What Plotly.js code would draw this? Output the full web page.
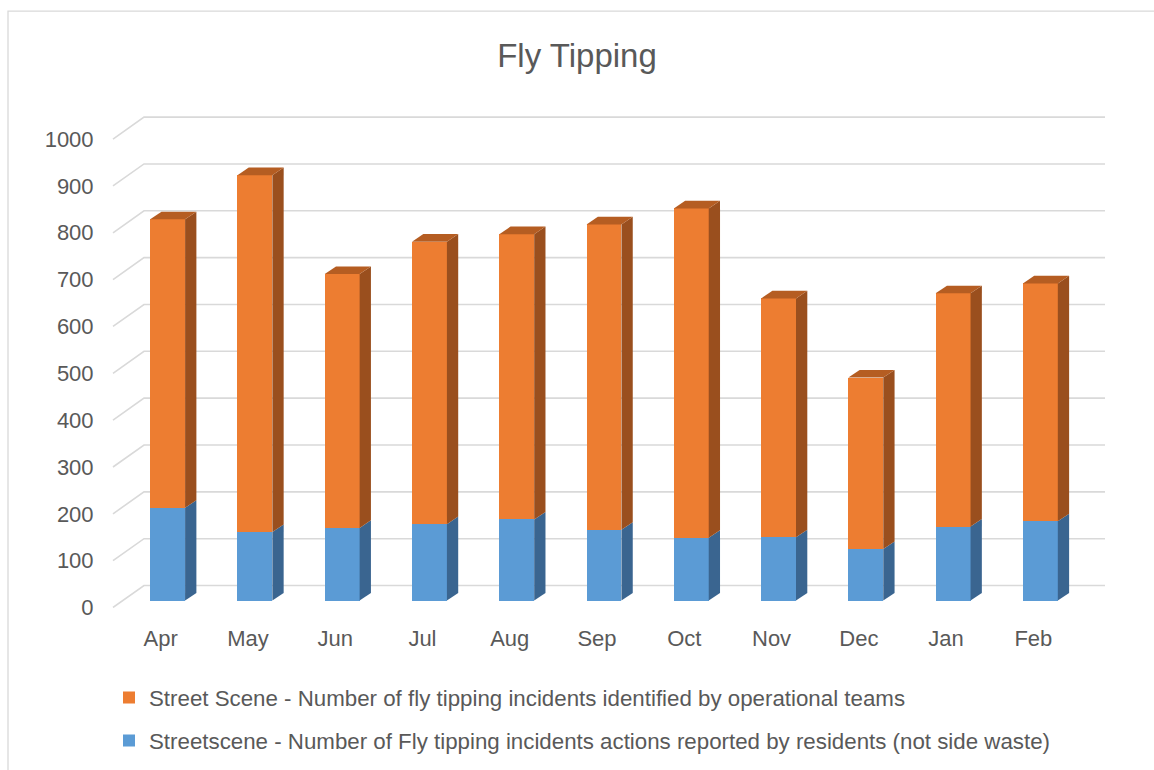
<!DOCTYPE html>
<html>
<head>
<meta charset="utf-8">
<script src="https://cdn.plot.ly/plotly-3.0.1.min.js"></script>
<style>html,body{margin:0;padding:0;background:#fff;}#chart{width:1154px;height:770px;}</style>
</head>
<body>
<div id="chart"></div>
<script>
const months = ["Apr","May","Jun","Jul","Aug","Sep","Oct","Nov","Dec","Jan","Feb"];
const residents = [198,146,155,163,173,151,134,135,110,158,169];
const operational = [616,762,542,603,609,652,703,510,366,498,508];
const yTicks = [0,100,200,300,400,500,600,700,800,900,1000];
const seriesNames = [
  "Streetscene - Number of Fly tipping incidents actions reported by residents (not side waste)",
  "Street Scene - Number of fly tipping incidents identified by operational teams"
];

const W = 1154, H = 770;
const L = 124, R = 70, T = 104, B = 161.5;
const plotW = W - L - R, plotH = H - T - B;
const yRange = [-16, 1060];
const pxPerUnit = plotH / (yRange[1] - yRange[0]);
const pxPerCat = plotW / 11;
const BAR_W = 0.4;
const DX = 11.3 / pxPerCat;      // depth offset in x units
const DY = 7.6 / pxPerUnit;      // depth offset in y units

const ORANGE = "#ED7D31", ORANGE_SIDE = "#9A4F1E", ORANGE_TOP = "#B55D22";
const BLUE = "#5B9BD5", BLUE_SIDE = "#3A6590";

const idx = months.map((m, i) => i);
const totals = residents.map((v, i) => v + operational[i]);

const shapes = [];
// back-wall gridlines with floor diagonals
const frontX = (113 - L) / plotW, backX = (144 - L) / plotW, rightX = (1105 - L) / plotW;
const frontOff = -7 / pxPerUnit, backOff = 15 / pxPerUnit;
yTicks.forEach(v => {
  shapes.push({type: "path", xref: "paper", yref: "y", layer: "below",
    path: `M ${frontX},${v + frontOff} L ${backX},${v + backOff} L ${rightX},${v + backOff}`,
    line: {color: "#D9D9D9", width: 1.6}});
});
// 3D faces
idx.forEach(i => {
  const xr = i + BAR_W / 2, xl = i - BAR_W / 2;
  const face = (b0, b1, color) => shapes.push({type: "path", xref: "x", yref: "y", layer: "above",
    path: `M ${xr},${b0} L ${xr + DX},${b0 + DY} L ${xr + DX},${b1 + DY} L ${xr},${b1} Z`,
    fillcolor: color, line: {width: 0}});
  face(0, residents[i], BLUE_SIDE);
  face(residents[i], totals[i], ORANGE_SIDE);
  shapes.push({type: "path", xref: "x", yref: "y", layer: "above",
    path: `M ${xl},${totals[i]} L ${xl + DX},${totals[i] + DY} L ${xr + DX},${totals[i] + DY} L ${xr},${totals[i]} Z`,
    fillcolor: ORANGE_TOP, line: {width: 0}});
});
// outer chart border
shapes.push({type: "rect", xref: "paper", yref: "paper", layer: "below",
  x0: (8 - L) / plotW, x1: (1200 - L) / plotW,
  y0: (H - B - 800) / plotH, y1: (H - B - 11) / plotH,
  line: {color: "#D9D9D9", width: 1.3}, fillcolor: "rgba(0,0,0,0)"});

const traces = [
  {type: "bar", x: idx, y: residents, name: seriesNames[0], width: BAR_W, legendrank: 2,
   marker: {color: BLUE, line: {width: 0}}, legendgroup: "b", hoverinfo: "y"},
  {type: "bar", x: idx, y: operational, name: seriesNames[1], width: BAR_W, legendrank: 1,
   marker: {color: ORANGE, line: {width: 0}}, legendgroup: "a", hoverinfo: "y"},
  {type: "scatter", x: [0], y: [0], yaxis: "y2", mode: "markers",
   marker: {opacity: 0}, showlegend: false, hoverinfo: "skip"}
];

const FONT = "Liberation Sans, Arial, sans-serif";
const layout = {
  width: W, height: H,
  margin: {l: L, r: R, t: T, b: B, autoexpand: false},
  paper_bgcolor: "#fff", plot_bgcolor: "rgba(0,0,0,0)",
  barmode: "stack",
  title: {text: "Fly Tipping", x: 0.5, xanchor: "center", y: 1 - 55 / H, yanchor: "middle",
          font: {family: FONT, size: 33, color: "#595959"}},
  xaxis: {range: [-0.5, 10.5], tickvals: idx, ticktext: months, showgrid: false, zeroline: false,
          showline: false, ticks: "outside", ticklen: 11, tickcolor: "rgba(0,0,0,0)",
          ticklabelshift: -7, tickfont: {family: FONT, size: 22, color: "#595959"}, fixedrange: true},
  yaxis: {range: yRange, showgrid: false, zeroline: false, showline: false, showticklabels: false,
          ticks: "", fixedrange: true},
  yaxis2: {overlaying: "y", side: "left", anchor: "x",
           range: [yRange[0] - frontOff, yRange[1] - frontOff],
           tickvals: yTicks, ticktext: yTicks.map(String), showgrid: false, zeroline: false, showline: false,
           ticks: "outside", ticklen: 25, tickcolor: "rgba(0,0,0,0)",
           tickfont: {family: FONT, size: 22, color: "#595959"}, fixedrange: true},
  legend: {orientation: "v", x: (109 - L) / plotW, xanchor: "left", y: (H - B - 677) / plotH, yanchor: "top",
           traceorder: "grouped", tracegroupgap: 11, itemwidth: 30,
           font: {family: FONT, size: 22.3, color: "#595959"}, bgcolor: "rgba(0,0,0,0)"},
  shapes: shapes,
  showlegend: true
};

Plotly.newPlot("chart", traces, layout, {displayModeBar: false, staticPlot: true});
</script>
</body>
</html>
